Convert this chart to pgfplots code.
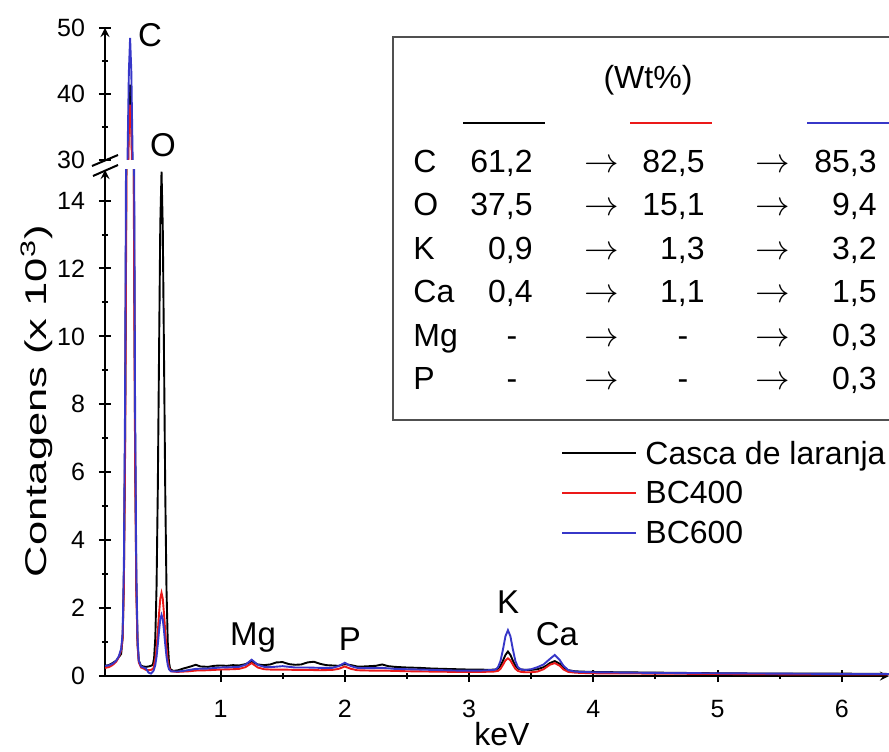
\documentclass[border=0pt]{standalone}
\usepackage{fontspec}
\setmainfont{Liberation Sans}
\usepackage{pgfplots}
\usepackage{pgfplotstable}
\pgfplotsset{compat=1.18}
\definecolor{cblue}{RGB}{55,55,200}
\definecolor{cred}{RGB}{235,25,25}
\definecolor{boxgray}{RGB}{80,80,80}
\newcommand\fs[1]{\fontsize{#1}{#1}\selectfont}

\pgfplotstableread{
x y
0.07 0.30
0.10 0.32
0.13 0.38
0.16 0.45
0.18 0.55
0.20 0.65
0.212 1.14
0.222 2.85
0.232 7.15
0.242 15.2
0.252 26.4
0.262 37.0
0.272 41.4
0.282 37.0
0.292 26.3
0.302 15.0
0.312 7.0
0.322 2.7
0.332 0.95
0.342 0.45
0.36 0.30
0.38 0.28
0.40 0.27
0.42 0.28
0.44 0.30
0.455 0.33
0.465 0.52
0.475 1.13
0.485 2.65
0.495 5.5
0.505 9.5
0.515 13.3
0.525 14.85
0.535 13.2
0.545 9.4
0.555 5.4
0.565 2.55
0.575 1.0
0.585 0.4
0.595 0.2
0.62 0.15
0.66 0.17
0.70 0.22
0.75 0.27
0.80 0.33
0.84 0.28
0.90 0.27
0.95 0.30
1.00 0.31
1.05 0.30
1.10 0.32
1.15 0.31
1.20 0.35
1.25 0.42
1.30 0.34
1.35 0.32
1.40 0.34
1.45 0.40
1.50 0.41
1.55 0.35
1.60 0.33
1.65 0.34
1.70 0.40
1.75 0.42
1.80 0.36
1.85 0.32
1.90 0.31
1.95 0.30
2.00 0.35
2.05 0.32
2.10 0.28
2.15 0.28
2.20 0.29
2.25 0.30
2.30 0.34
2.35 0.29
2.40 0.27
2.50 0.25
2.60 0.24
2.70 0.22
2.80 0.21
2.90 0.20
3.00 0.19
3.10 0.19
3.15 0.18
3.21 0.19
3.233 0.22
3.253 0.30
3.273 0.45
3.293 0.62
3.313 0.72
3.333 0.62
3.353 0.45
3.373 0.30
3.393 0.22
3.42 0.19
3.46 0.18
3.50 0.18
3.55 0.20
3.60 0.26
3.62 0.30
3.65 0.38
3.69 0.44
3.73 0.36
3.76 0.24
3.80 0.17
3.85 0.14
3.90 0.13
4.00 0.12
4.20 0.11
4.50 0.10
5.00 0.08
5.50 0.07
6.00 0.07
6.38 0.06
}\casca

\pgfplotstableread{
x y
0.07 0.24
0.10 0.26
0.13 0.32
0.16 0.42
0.18 0.55
0.20 0.75
0.212 1.1
0.222 2.65
0.232 6.65
0.242 14.1
0.252 24.5
0.262 34.4
0.272 38.4
0.282 34.4
0.292 24.4
0.302 13.9
0.312 6.5
0.322 2.5
0.332 0.9
0.342 0.40
0.36 0.25
0.38 0.22
0.40 0.18
0.42 0.17
0.44 0.18
0.46 0.22
0.465 0.33
0.475 0.50
0.485 0.83
0.495 1.30
0.505 1.83
0.515 2.28
0.525 2.45
0.535 2.28
0.545 1.83
0.555 1.30
0.565 0.83
0.575 0.45
0.585 0.25
0.60 0.14
0.65 0.12
0.70 0.13
0.75 0.14
0.80 0.16
0.90 0.17
1.00 0.19
1.10 0.20
1.15 0.21
1.20 0.26
1.25 0.38
1.30 0.25
1.35 0.20
1.40 0.19
1.50 0.19
1.60 0.18
1.70 0.18
1.80 0.17
1.90 0.18
1.95 0.21
2.00 0.28
2.05 0.21
2.10 0.17
2.20 0.16
2.30 0.16
2.40 0.15
2.50 0.14
2.70 0.13
2.90 0.12
3.10 0.12
3.20 0.13
3.233 0.15
3.253 0.21
3.273 0.33
3.293 0.46
3.313 0.52
3.333 0.46
3.353 0.33
3.373 0.21
3.393 0.15
3.42 0.12
3.46 0.11
3.50 0.11
3.55 0.13
3.60 0.20
3.65 0.33
3.69 0.38
3.73 0.30
3.76 0.19
3.80 0.12
3.85 0.10
3.90 0.09
4.00 0.08
4.50 0.07
5.00 0.06
5.50 0.05
6.00 0.05
6.38 0.05
}\bcfour

\pgfplotstableread{
x y
0.07 0.30
0.10 0.31
0.13 0.36
0.16 0.45
0.18 0.57
0.20 0.8
0.212 1.26
0.222 3.25
0.232 8.3
0.242 17.8
0.252 31.0
0.262 43.3
0.272 48.5
0.282 43.3
0.292 30.9
0.302 17.6
0.312 8.1
0.322 3.1
0.332 1.1
0.342 0.45
0.36 0.28
0.38 0.25
0.40 0.22
0.42 0.10
0.44 0.07
0.46 0.15
0.465 0.20
0.475 0.33
0.485 0.57
0.495 0.93
0.505 1.33
0.515 1.67
0.525 1.80
0.535 1.67
0.545 1.33
0.555 0.93
0.565 0.57
0.575 0.33
0.585 0.20
0.60 0.14
0.65 0.13
0.70 0.15
0.75 0.18
0.80 0.21
0.90 0.22
1.00 0.25
1.10 0.26
1.15 0.27
1.20 0.33
1.25 0.48
1.30 0.33
1.35 0.27
1.40 0.26
1.50 0.29
1.60 0.25
1.70 0.25
1.80 0.24
1.90 0.24
1.95 0.29
2.00 0.39
2.05 0.29
2.10 0.24
2.20 0.23
2.30 0.24
2.40 0.21
2.50 0.20
2.70 0.18
2.90 0.16
3.10 0.16
3.20 0.18
3.213 0.19
3.233 0.26
3.253 0.44
3.273 0.78
3.293 1.17
3.313 1.35
3.333 1.17
3.353 0.78
3.373 0.44
3.393 0.26
3.42 0.19
3.46 0.18
3.50 0.20
3.55 0.26
3.60 0.34
3.65 0.50
3.69 0.62
3.73 0.47
3.76 0.30
3.80 0.17
3.85 0.13
3.90 0.12
4.00 0.11
4.50 0.09
5.00 0.08
5.50 0.07
6.00 0.06
6.38 0.06
}\bcsix

\begin{document}
\begin{tikzpicture}
\useasboundingbox (0,0) rectangle (444.5pt,375.5pt);
\pgfplotsset{common/.style={
  scale only axis, width=392pt, xmin=0.07, xmax=6.38,
  axis line style={line width=1pt,-}, tick style={line width=1pt,black},
  tick align=outside, major tick length=6pt, minor tick length=3.2pt,
  /pgf/number format/assume math mode=true,
  every axis plot/.append style={line width=0.95pt},
}}
% lower axis
\begin{axis}[common, at={(52.5pt,37.5pt)}, anchor=south west, height=253pt,
  ymin=0, ymax=14.9, axis x line=bottom, axis y line=left,
  xtick={1,2,3,4,5,6}, ytick={0,2,4,6,8,10,12,14},
  minor x tick num=1, minor y tick num=1,
  every tick label/.append style={font=\fs{12.5}},
  xticklabel style={font=\fs{12.5}, yshift=-5.5pt},
  yticklabel style={font=\fs{12.5}, xshift=-3.5pt}]
\addplot[black] table[x=x,y=y]{\casca};
\addplot[cred] table[x=x,y=y]{\bcfour};
\addplot[cblue] table[x=x,y=y]{\bcsix};
\end{axis}
% upper axis
\begin{axis}[common, at={(52.5pt,295.5pt)}, anchor=south west, height=66pt,
  ymin=30, ymax=50, axis x line=none, axis y line=left,
  xtick=\empty, ytick={30,40,50}, minor y tick num=1,
  every tick label/.append style={font=\fs{12.5}},
  yticklabel style={font=\fs{12.5}, xshift=-3.5pt}]
\addplot[black] table[x=x,y=y]{\casca};
\addplot[cred] table[x=x,y=y]{\bcfour};
\addplot[cblue] table[x=x,y=y]{\bcsix};
\end{axis}
% axis break marks
\draw[line width=1pt] (46pt,292.5pt) -- (59pt,298pt);
\draw[line width=1pt] (46.5pt,287.5pt) -- (59pt,293pt);
% axis labels
\node[rotate=90, xscale=1.45, font=\fs{15}] at (18.5pt,175pt) {Contagens (x 10\textsuperscript{3})};
\node[anchor=base, font=\fs{16}] at (251pt,3pt) {keV};
% peak labels
\begin{scope}[every node/.style={anchor=base, font=\fs{16.5}}]
\node at (75pt,352pt) {C};
\node at (81.5pt,297pt) {O};
\node at (126.5pt,53pt) {Mg};
\node at (175pt,50.5pt) {P};
\node at (254pt,69pt) {K};
\node at (278.5pt,53pt) {Ca};
\end{scope}
% inset table box
\draw[boxgray, line width=0.8pt] (446pt,357pt) -- (196.5pt,357pt) -- (196.5pt,165.5pt) -- (446pt,165.5pt);
\node[font=\fs{16}] at (324pt,335.5pt) {(Wt\%)};
\draw[black, line width=0.8pt] (231.5pt,314pt) -- (272.5pt,314pt);
\draw[cred, line width=0.8pt] (315pt,314pt) -- (356pt,314pt);
\draw[cblue, line width=0.8pt] (403.5pt,314pt) -- (450pt,314pt);
\begin{scope}[every node/.style={font=\fs{16}, inner sep=0pt}]
\foreach \yy/\el/\a/\b/\c in {289/C/{61,2}/{82,5}/{85,3}, 267.5/O/{37,5}/{15,1}/{9,4}, 245.75/K/{0,9}/{1,3}/{3,2}, 224/Ca/{0,4}/{1,1}/{1,5}}{
  \node[anchor=base west] at (206.5pt,\yy pt) {\el};
  \node[anchor=base east] at (266.5pt,\yy pt) {\a};
  \node[anchor=base] at (301pt,\yy pt) {$\rightarrow$};
  \node[anchor=base east] at (352.5pt,\yy pt) {\b};
  \node[anchor=base] at (386.5pt,\yy pt) {$\rightarrow$};
  \node[anchor=base east] at (438.5pt,\yy pt) {\c};
}
\foreach \yy/\el in {202.5/Mg, 180.75/P}{
  \node[anchor=base west] at (206.5pt,\yy pt) {\el};
  \node[anchor=base] at (256pt,\yy pt) {-};
  \node[anchor=base] at (301pt,\yy pt) {$\rightarrow$};
  \node[anchor=base] at (341.5pt,\yy pt) {-};
  \node[anchor=base] at (386.5pt,\yy pt) {$\rightarrow$};
  \node[anchor=base east] at (438.5pt,\yy pt) {0,3};
}
\end{scope}
% legend
\draw[black, line width=0.8pt] (281pt,149pt) -- (318pt,149pt);
\draw[cred, line width=0.8pt] (281pt,129pt) -- (318pt,129pt);
\draw[cblue, line width=0.8pt] (281pt,109pt) -- (318pt,109pt);
\begin{scope}[every node/.style={font=\fs{16}, inner sep=0pt, anchor=base west}]
\node at (322.5pt,143.5pt) {Casca de laranja};
\node at (322.5pt,124pt) {BC400};
\node at (322.5pt,104pt) {BC600};
\end{scope}
\end{tikzpicture}
\end{document}
